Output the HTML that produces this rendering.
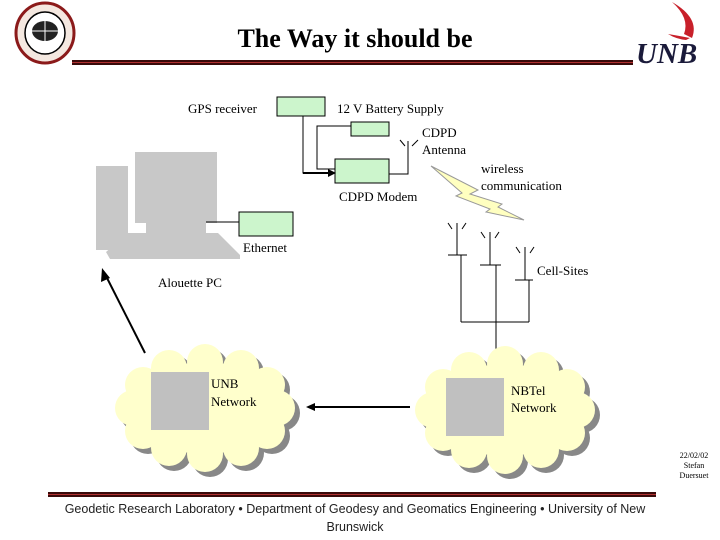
<!DOCTYPE html>
<html><head><style>
html,body{margin:0;padding:0;background:#fff;}
body{width:720px;height:540px;position:relative;overflow:hidden;font-family:"Liberation Serif",serif;}
.t{position:absolute;font-size:13px;color:#000;white-space:nowrap;line-height:1;}
</style></head><body>
<svg width="720" height="540" style="position:absolute;left:0;top:0">
 <defs>
  <g id="cl">
   <ellipse cx="0" cy="0" rx="72" ry="46"/>
   <circle cx="72" cy="0" r="18"/><circle cx="62" cy="23" r="18"/><circle cx="36" cy="40" r="18"/>
   <circle cx="0" cy="46" r="18"/><circle cx="-36" cy="40" r="18"/><circle cx="-62" cy="23" r="18"/>
   <circle cx="-72" cy="0" r="18"/><circle cx="-62" cy="-23" r="18"/><circle cx="-36" cy="-40" r="18"/>
   <circle cx="0" cy="-46" r="18"/><circle cx="36" cy="-40" r="18"/><circle cx="62" cy="-23" r="18"/>
  </g>
 </defs>
 <!-- left logo -->
 <ellipse cx="45" cy="33" rx="29" ry="30" fill="#f4e8e0" stroke="#8b1a1a" stroke-width="3"/>
 <ellipse cx="45" cy="33" rx="20" ry="21" fill="#fff" stroke="#000" stroke-width="1.5"/>
 <ellipse cx="45" cy="31" rx="13" ry="10" fill="#222"/>
 <line x1="30" y1="31" x2="60" y2="31" stroke="#fff" stroke-width="1"/>
 <line x1="45" y1="20" x2="45" y2="44" stroke="#fff" stroke-width="1"/>
 <!-- header rule -->
 <rect x="72" y="60" width="561" height="5" fill="#3a0a0a"/>
 <rect x="72" y="62" width="561" height="1" fill="#b03030"/>
 <!-- UNB swoosh -->
 <path d="M672 2 Q700 18 692 38 L684 34 Q690 18 672 2Z" fill="#c8202a"/>
 <path d="M668 34 Q680 36 690 38 L686 40 Q676 39 668 34Z" fill="#c8202a"/>
 <!-- footer rule -->
 <rect x="48" y="492" width="608" height="5" fill="#3a0a0a"/>
 <rect x="48" y="494" width="608" height="1" fill="#b03030"/>

 <!-- GPS / battery / modem -->
 <rect x="277" y="97" width="48" height="19" fill="#ccf5cc" stroke="#000"/>
 <rect x="351" y="122" width="38" height="14" fill="#ccf5cc" stroke="#000"/>
 <rect x="335" y="159" width="54" height="24" fill="#ccf5cc" stroke="#000"/>
 <polyline points="303,116 303,173 333,173" fill="none" stroke="#000" stroke-width="1"/>
 <line x1="303" y1="173" x2="330" y2="173" stroke="#000" stroke-width="2"/>
 <polygon points="336,173 328,169 328,177" fill="#000"/>
 <polyline points="351,126 317,126 317,169 335,169" fill="none" stroke="#000"/>
 <polyline points="389,174 408,174 408,141" fill="none" stroke="#000"/>
 <line x1="400" y1="140" x2="405" y2="146" stroke="#000"/>
 <line x1="412" y1="146" x2="418" y2="140" stroke="#000"/>
 <!-- lightning -->
 <polygon points="431,166 478,190 470,194 502,204 498,207 524,220 486,212 490,209 456,196 462,193" fill="#ffffc0" stroke="#999"/>
 <!-- PC -->
 <rect x="96" y="166" width="32" height="84" fill="#c8c8c8"/>
 <rect x="135" y="152" width="82" height="71" fill="#c8c8c8"/>
 <rect x="146" y="223" width="60" height="12" fill="#c8c8c8"/>
 <path d="M128 233 L218 233 L240 255 L240 259 L110 259 L106 252 Z" fill="#c8c8c8"/>
 <rect x="239" y="212" width="54" height="24" fill="#ccf5cc" stroke="#000"/>
 <line x1="206" y1="222" x2="239" y2="222" stroke="#000"/>
 <!-- cell sites -->
 <g stroke="#000" fill="none">
  <line x1="457" y1="223" x2="457" y2="255"/><line x1="448" y1="255" x2="467" y2="255"/>
  <line x1="448" y1="223" x2="452" y2="229"/><line x1="466" y1="223" x2="462" y2="229"/>
  <line x1="490" y1="232" x2="490" y2="265"/><line x1="480" y1="265" x2="501" y2="265"/>
  <line x1="481" y1="232" x2="485" y2="238"/><line x1="499" y1="232" x2="495" y2="238"/>
  <line x1="525" y1="247" x2="525" y2="280"/><line x1="515" y1="280" x2="533" y2="280"/>
  <line x1="516" y1="247" x2="520" y2="253"/><line x1="534" y1="247" x2="530" y2="253"/>
  <line x1="461" y1="255" x2="461" y2="322"/><line x1="496" y1="265" x2="496" y2="349"/>
  <line x1="529" y1="280" x2="529" y2="322"/><line x1="461" y1="322" x2="529" y2="322"/>
 </g>
 <!-- arrow to PC -->
 <line x1="145" y1="353" x2="106" y2="276" stroke="#000" stroke-width="2"/>
 <polygon points="102,268 101,282 110,278" fill="#000"/>
 <!-- clouds -->
 <use href="#cl" transform="translate(210,413)" fill="#888"/>
 <use href="#cl" transform="translate(510,415)" fill="#888"/>
 <use href="#cl" transform="translate(205,408)" fill="#ffffcc"/>
 <use href="#cl" transform="translate(505,410)" fill="#ffffcc"/>
 <rect x="151" y="372" width="58" height="58" fill="#c0c0c0"/>
 <rect x="446" y="378" width="58" height="58" fill="#c0c0c0"/>
 <line x1="410" y1="407" x2="313" y2="407" stroke="#000" stroke-width="2"/>
 <polygon points="306,407 315,403 315,411" fill="#000"/>
</svg>
<div class="t" style="left:0;width:710px;top:26px;text-align:center;font-size:26px;font-weight:bold;">The Way it should be</div>
<div class="t" style="left:636px;top:40px;font-size:29px;font-weight:bold;font-style:italic;color:#1a1a3a;">UNB</div>
<div class="t" style="left:188px;top:102px;">GPS receiver</div>
<div class="t" style="left:337px;top:102px;">12 V Battery Supply</div>
<div class="t" style="left:422px;top:126px;">CDPD</div>
<div class="t" style="left:422px;top:143px;">Antenna</div>
<div class="t" style="left:481px;top:162px;">wireless</div>
<div class="t" style="left:481px;top:179px;">communication</div>
<div class="t" style="left:339px;top:190px;">CDPD Modem</div>
<div class="t" style="left:243px;top:241px;">Ethernet</div>
<div class="t" style="left:537px;top:264px;">Cell-Sites</div>
<div class="t" style="left:158px;top:276px;">Alouette PC</div>
<div class="t" style="left:211px;top:377px;">UNB</div>
<div class="t" style="left:211px;top:395px;">Network</div>
<div class="t" style="left:511px;top:384px;">NBTel</div>
<div class="t" style="left:511px;top:401px;">Network</div>
<div class="t" style="left:40px;width:630px;top:500px;text-align:center;font-family:'Liberation Sans',sans-serif;font-size:12.5px;white-space:normal;line-height:18px;color:#222;">Geodetic Research Laboratory • Department of Geodesy and Geomatics Engineering • University of New Brunswick</div>
<div class="t" style="left:672px;width:44px;top:451px;text-align:center;font-size:8px;line-height:10px;white-space:normal;">22/02/02<br>Stefan<br>Duersuet</div>
</body></html>
